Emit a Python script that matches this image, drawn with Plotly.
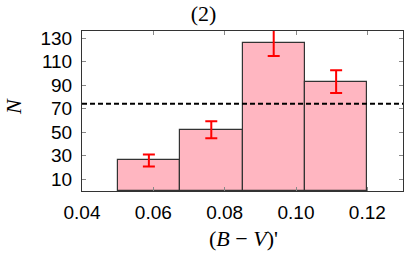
import plotly.graph_objects as go

bin_centers = [0.05875, 0.07625, 0.09375, 0.11125]
counts = [26, 52, 126, 93]
errors = [5.1, 7.2, 11.2, 9.6]
bin_width = 0.0175
mean_level = sum(counts) / len(counts)
x_ticks = [0.04, 0.06, 0.08, 0.10, 0.12]
x_tick_labels = ["0.04", "0.06", "0.08", "0.10", "0.12"]
y_ticks = [10, 30, 50, 70, 90, 110, 130]

W, H = 407, 255
L, R, T, B = 82, 4, 31, 64
serif = "Liberation Serif, Times New Roman, serif"

fig = go.Figure()
fig.add_trace(go.Bar(
    x=bin_centers, y=counts, width=bin_width,
    marker=dict(color="#FFB6C1", line=dict(color="#333333", width=1.2)),
    error_y=dict(type="data", array=errors, visible=True, color="red", thickness=2, width=6),
    showlegend=False,
))
fig.add_trace(go.Scatter(
    x=[0.04, 0.13], y=[mean_level, mean_level], mode="lines",
    line=dict(color="black", width=2, dash="5px,3px"), showlegend=False,
))

pw, ph = W - L - R, H - T - B
fig.update_layout(
    width=W, height=H,
    margin=dict(l=L, r=R, t=T, b=B),
    plot_bgcolor="white", paper_bgcolor="white",
    bargap=0,
    font=dict(family="Liberation Sans, Arial", size=19, color="black"),
    title=dict(text="(2)", x=0.5, xanchor="center", y=1 - 13 / H, yanchor="middle",
               font=dict(family=serif, size=22)),
    xaxis=dict(range=[0.04, 0.13], tickvals=x_ticks, ticktext=x_tick_labels,
               ticks="inside", ticklen=4, tickcolor="#888", showgrid=False, zeroline=False,
               showline=True, linecolor="#333", linewidth=1, mirror="allticks",
               ticklabelstandoff=4),
    yaxis=dict(range=[0, 136], tickvals=y_ticks,
               ticks="inside", ticklen=4, tickcolor="#888", showgrid=False, zeroline=False,
               showline=True, linecolor="#333", linewidth=1, mirror="allticks",
               ticklabelstandoff=5),
    annotations=[
        dict(text="<i>N</i>", x=(13 - L) / pw, y=(H - 107 - B) / ph, xref="paper", yref="paper",
             showarrow=False, textangle=-90, xanchor="center", yanchor="middle",
             font=dict(family=serif, size=22)),
        dict(text="(<i>B</i> − <i>V</i>)'", x=(244 - L) / pw, y=(H - 238 - B) / ph,
             xref="paper", yref="paper", showarrow=False, xanchor="center", yanchor="middle",
             font=dict(family=serif, size=22)),
    ],
)
fig.write_html("out.html", config={"displayModeBar": False},
               post_script="document.body.style.margin='0px';")
